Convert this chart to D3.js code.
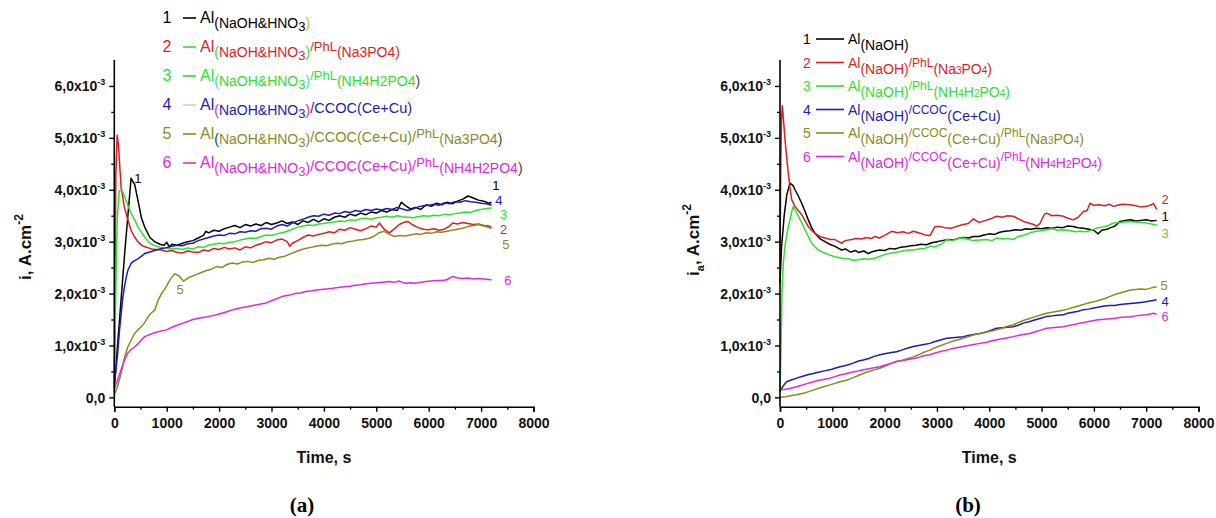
<!DOCTYPE html>
<html><head><meta charset="utf-8">
<script src="https://cdn.jsdelivr.net/npm/d3@7/dist/d3.min.js"></script>
<style>body{margin:0;background:#fff}svg{display:block}</style>
</head><body>
<svg id="c" width="1216" height="518"></svg>
<script>
// ---------- DATA (current in units of 1e-3 A/cm2, time in s) ----------
const xTicks = [0,1000,2000,3000,4000,5000,6000,7000,8000];
const yTicks = [0,1,2,3,4,5,6];
const yTickLabels = ["0,0","1,0x10","2,0x10","3,0x10","4,0x10","5,0x10","6,0x10"];
const seriesColors = ["#000000","#dd1e1e","#2ee02e","#1c1cb8","#8b8b1c","#e028e0"];

const a1 = [[0,0.2],[100,1.5],[200,2.8],[320,4.22],[390,4.1],[450,3.8],[520,3.45],[580,3.28],[680,3.08],[770,3.0],[870,2.95],[950,2.93],[1000,2.99],[1050,2.9],[1100,2.95],[1200,2.93],[1300,2.97],[1400,3.0],[1500,3.02],[1600,3.07],[1700,3.12],[1750,3.2],[1800,3.17],[1900,3.22],[2000,3.2],[2100,3.25],[2200,3.28],[2300,3.31],[2400,3.27],[2500,3.33],[2600,3.3],[2700,3.34],[2800,3.31],[2900,3.37],[3000,3.33],[3100,3.36],[3200,3.4],[3300,3.35],[3400,3.38],[3500,3.33],[3600,3.4],[3700,3.37],[3800,3.43],[3900,3.38],[4000,3.44],[4100,3.41],[4200,3.47],[4300,3.5],[4400,3.47],[4500,3.53],[4600,3.5],[4700,3.55],[4800,3.52],[4900,3.57],[5000,3.55],[5100,3.6],[5200,3.57],[5300,3.62],[5400,3.6],[5480,3.76],[5550,3.7],[5650,3.63],[5750,3.66],[5850,3.62],[5950,3.71],[6050,3.68],[6150,3.74],[6250,3.71],[6350,3.76],[6450,3.73],[6550,3.78],[6650,3.82],[6750,3.88],[6850,3.84],[6950,3.8],[7050,3.78],[7150,3.74],[7200,3.76]];
const a2 = [[0,0.1],[15,2.5],[30,4.3],[55,5.05],[80,4.85],[130,4.05],[190,3.67],[250,3.45],[320,3.22],[380,3.1],[450,3.0],[520,2.93],[580,2.9],[650,2.88],[710,2.86],[800,2.85],[900,2.84],[1000,2.81],[1100,2.83],[1200,2.79],[1300,2.78],[1400,2.82],[1500,2.8],[1600,2.79],[1700,2.84],[1800,2.82],[1900,2.87],[2000,2.85],[2100,2.89],[2200,2.86],[2300,2.88],[2400,2.84],[2500,2.9],[2600,2.88],[2700,2.93],[2800,2.96],[2900,3.0],[3000,2.98],[3100,3.03],[3200,3.05],[3300,3.0],[3350,2.91],[3400,2.97],[3500,3.02],[3600,3.08],[3700,3.13],[3800,3.11],[3900,3.14],[4000,3.16],[4100,3.19],[4200,3.17],[4300,3.24],[4400,3.22],[4500,3.27],[4600,3.24],[4700,3.21],[4800,3.25],[4900,3.3],[5000,3.28],[5060,3.36],[5150,3.24],[5250,3.17],[5350,3.25],[5440,3.33],[5520,3.37],[5600,3.39],[5700,3.32],[5800,3.27],[5900,3.24],[6000,3.23],[6100,3.25],[6200,3.22],[6300,3.24],[6400,3.3],[6460,3.36],[6550,3.34],[6650,3.37],[6750,3.35],[6850,3.33],[6950,3.34],[7050,3.31],[7150,3.3],[7200,3.28]];
const a3 = [[0,0.15],[20,1.5],[40,2.8],[60,3.5],[96,3.98],[130,4.0],[161,3.96],[225,3.79],[322,3.54],[400,3.4],[450,3.28],[520,3.18],[580,3.09],[650,3.0],[710,2.95],[800,2.91],[900,2.89],[1000,2.87],[1100,2.86],[1200,2.87],[1300,2.85],[1400,2.88],[1500,2.86],[1600,2.9],[1700,2.89],[1800,2.93],[1900,2.95],[2000,2.97],[2100,2.96],[2200,2.99],[2300,3.0],[2400,3.03],[2500,3.05],[2600,3.07],[2700,3.06],[2800,3.1],[2900,3.13],[3000,3.12],[3100,3.15],[3200,3.17],[3300,3.2],[3400,3.24],[3500,3.28],[3600,3.3],[3700,3.32],[3800,3.31],[3900,3.34],[4000,3.35],[4100,3.37],[4200,3.38],[4300,3.4],[4400,3.39],[4500,3.42],[4600,3.41],[4700,3.44],[4800,3.45],[4900,3.43],[5000,3.46],[5100,3.47],[5200,3.49],[5300,3.47],[5400,3.5],[5500,3.48],[5600,3.47],[5700,3.46],[5800,3.48],[5900,3.5],[6000,3.49],[6100,3.51],[6200,3.5],[6300,3.53],[6400,3.52],[6500,3.54],[6600,3.55],[6700,3.57],[6800,3.56],[6900,3.6],[7000,3.62],[7100,3.64],[7200,3.65]];
const a4 = [[0,0.25],[30,0.5],[64,0.85],[100,1.3],[130,1.6],[160,1.9],[193,2.13],[230,2.32],[260,2.45],[320,2.58],[380,2.63],[450,2.67],[520,2.72],[580,2.77],[680,2.8],[770,2.83],[870,2.86],[970,2.88],[1100,2.91],[1200,2.93],[1300,2.92],[1400,2.96],[1500,2.97],[1600,3.02],[1700,3.05],[1800,3.08],[1900,3.11],[2000,3.13],[2100,3.12],[2200,3.16],[2300,3.15],[2400,3.19],[2500,3.18],[2600,3.21],[2700,3.2],[2800,3.25],[2900,3.26],[3000,3.24],[3100,3.3],[3200,3.33],[3300,3.3],[3400,3.36],[3500,3.4],[3600,3.43],[3700,3.47],[3800,3.5],[3900,3.49],[4000,3.53],[4100,3.51],[4200,3.55],[4300,3.54],[4400,3.58],[4500,3.56],[4600,3.6],[4700,3.58],[4800,3.62],[4900,3.6],[5000,3.63],[5100,3.61],[5200,3.64],[5300,3.62],[5400,3.66],[5500,3.63],[5600,3.6],[5700,3.63],[5800,3.67],[5900,3.69],[6000,3.7],[6100,3.72],[6200,3.7],[6300,3.75],[6400,3.73],[6500,3.77],[6600,3.76],[6700,3.79],[6800,3.77],[6900,3.76],[7000,3.74],[7100,3.73],[7200,3.7]];
const a5 = [[0,0.05],[60,0.2],[129,0.46],[190,0.75],[257,0.97],[320,1.1],[386,1.23],[450,1.3],[514,1.36],[580,1.44],[643,1.55],[700,1.62],[772,1.68],[836,1.87],[900,2.0],[960,2.08],[1061,2.26],[1110,2.33],[1157,2.38],[1200,2.36],[1254,2.32],[1320,2.24],[1380,2.28],[1450,2.32],[1550,2.36],[1650,2.4],[1750,2.44],[1850,2.47],[1950,2.52],[2050,2.5],[2150,2.56],[2250,2.59],[2350,2.57],[2450,2.61],[2550,2.62],[2650,2.6],[2750,2.64],[2850,2.65],[2950,2.68],[3050,2.66],[3150,2.7],[3250,2.72],[3350,2.76],[3450,2.8],[3550,2.84],[3650,2.87],[3750,2.89],[3850,2.91],[3950,2.93],[4050,2.92],[4150,2.95],[4250,2.97],[4350,2.96],[4450,3.0],[4550,3.01],[4650,3.03],[4750,3.04],[4850,3.06],[4950,3.1],[5050,3.17],[5150,3.2],[5250,3.14],[5350,3.1],[5450,3.12],[5550,3.11],[5650,3.13],[5750,3.15],[5850,3.14],[5950,3.17],[6050,3.16],[6150,3.19],[6250,3.18],[6350,3.2],[6450,3.22],[6550,3.24],[6650,3.26],[6750,3.29],[6850,3.31],[6950,3.33],[7050,3.3],[7150,3.27],[7200,3.26]];
const a6 = [[0,0.15],[60,0.33],[129,0.53],[190,0.7],[257,0.85],[320,0.92],[386,0.97],[450,1.03],[514,1.1],[579,1.17],[650,1.2],[750,1.24],[850,1.27],[1000,1.3],[1100,1.35],[1200,1.39],[1314,1.43],[1400,1.46],[1500,1.5],[1632,1.53],[1750,1.55],[1850,1.57],[1950,1.59],[2050,1.62],[2150,1.65],[2267,1.69],[2400,1.72],[2500,1.74],[2600,1.76],[2700,1.78],[2800,1.8],[2900,1.82],[3000,1.86],[3100,1.9],[3219,1.95],[3350,1.97],[3450,2.0],[3550,2.01],[3650,2.04],[3750,2.05],[3850,2.07],[3950,2.08],[4050,2.09],[4171,2.1],[4300,2.12],[4400,2.13],[4500,2.14],[4600,2.16],[4700,2.17],[4806,2.19],[4900,2.2],[5000,2.21],[5124,2.22],[5250,2.23],[5350,2.22],[5441,2.24],[5550,2.2],[5650,2.21],[5750,2.2],[5850,2.22],[5950,2.23],[6050,2.24],[6150,2.25],[6250,2.25],[6330,2.26],[6400,2.3],[6460,2.33],[6550,2.3],[6650,2.29],[6750,2.3],[6850,2.28],[6950,2.29],[7050,2.28],[7150,2.27],[7200,2.26]];

const b1 = [[0,2.2],[30,2.9],[80,3.5],[130,3.9],[190,4.13],[250,4.08],[287,4.0],[350,3.88],[414,3.74],[480,3.58],[541,3.42],[600,3.28],[669,3.16],[760,3.06],[860,3.0],[950,2.95],[1051,2.91],[1120,2.87],[1178,2.84],[1250,2.86],[1350,2.8],[1450,2.83],[1500,2.79],[1600,2.82],[1688,2.77],[1750,2.8],[1815,2.82],[1900,2.84],[2000,2.83],[2100,2.87],[2200,2.86],[2300,2.89],[2400,2.9],[2500,2.92],[2600,2.93],[2700,2.95],[2800,2.94],[2900,2.98],[3000,3.0],[3100,3.02],[3200,3.04],[3300,3.03],[3400,3.06],[3500,3.08],[3600,3.07],[3700,3.1],[3800,3.1],[3900,3.13],[4000,3.15],[4100,3.14],[4200,3.18],[4300,3.2],[4400,3.21],[4500,3.23],[4600,3.22],[4700,3.25],[4800,3.24],[4900,3.26],[5000,3.25],[5100,3.27],[5200,3.26],[5300,3.28],[5400,3.27],[5500,3.3],[5600,3.29],[5700,3.27],[5800,3.26],[5900,3.24],[6000,3.22],[6080,3.15],[6150,3.22],[6250,3.24],[6300,3.26],[6400,3.3],[6500,3.39],[6600,3.41],[6700,3.42],[6800,3.4],[6900,3.41],[7000,3.42],[7100,3.4],[7200,3.41]];
const b2 = [[0,2.5],[15,4.5],[30,5.4],[45,5.62],[70,5.3],[96,4.96],[130,4.6],[159,4.32],[190,4.05],[223,3.81],[287,3.68],[350,3.6],[414,3.52],[480,3.4],[541,3.29],[600,3.22],[669,3.16],[760,3.1],[860,3.07],[960,3.04],[1051,3.04],[1120,3.0],[1178,2.97],[1250,3.02],[1370,3.04],[1450,3.06],[1560,3.05],[1650,3.08],[1750,3.06],[1815,3.1],[1900,3.07],[2000,3.12],[2134,3.2],[2250,3.17],[2350,3.19],[2452,3.16],[2550,3.2],[2650,3.17],[2771,3.13],[2870,3.12],[2962,3.29],[3059,3.29],[3150,3.27],[3280,3.26],[3400,3.3],[3505,3.33],[3600,3.35],[3700,3.44],[3800,3.37],[3900,3.4],[4000,3.43],[4142,3.49],[4250,3.47],[4350,3.5],[4461,3.49],[4560,3.44],[4652,3.39],[4750,3.36],[4850,3.33],[4907,3.3],[4970,3.35],[5050,3.52],[5098,3.55],[5200,3.5],[5300,3.51],[5417,3.49],[5500,3.45],[5609,3.42],[5700,3.47],[5800,3.58],[5870,3.6],[5927,3.74],[6000,3.7],[6100,3.71],[6200,3.69],[6300,3.72],[6373,3.68],[6450,3.7],[6550,3.72],[6692,3.71],[6800,3.69],[6900,3.67],[7011,3.68],[7100,3.71],[7138,3.74],[7202,3.62]];
const b3 = [[0,0.1],[20,1.0],[40,2.1],[64,2.6],[100,2.95],[127,3.1],[160,3.3],[191,3.42],[230,3.6],[255,3.68],[300,3.6],[350,3.49],[410,3.38],[478,3.23],[540,3.1],[605,2.97],[670,2.9],[733,2.84],[830,2.79],[924,2.75],[1050,2.71],[1178,2.68],[1300,2.67],[1400,2.64],[1497,2.65],[1600,2.67],[1700,2.66],[1815,2.68],[1912,2.72],[2000,2.75],[2134,2.78],[2250,2.8],[2350,2.82],[2452,2.84],[2549,2.84],[2650,2.86],[2771,2.87],[2868,2.91],[2950,2.9],[3089,2.95],[3186,3.04],[3300,3.02],[3400,3.06],[3505,3.07],[3600,3.04],[3700,3.02],[3824,3.03],[3950,3.04],[4050,3.02],[4142,3.07],[4250,3.05],[4350,3.06],[4461,3.04],[4550,3.1],[4650,3.12],[4779,3.17],[4900,3.2],[5000,3.21],[5098,3.23],[5200,3.25],[5300,3.22],[5417,3.23],[5550,3.21],[5650,3.19],[5737,3.2],[5850,3.19],[5950,3.22],[6054,3.26],[6150,3.28],[6250,3.3],[6373,3.36],[6500,3.37],[6600,3.38],[6692,3.39],[6800,3.38],[6900,3.37],[7011,3.36],[7100,3.34],[7202,3.32]];
const b4 = [[0,0.11],[60,0.22],[127,0.3],[200,0.33],[318,0.37],[450,0.41],[550,0.44],[637,0.46],[750,0.49],[850,0.51],[955,0.53],[1050,0.56],[1150,0.59],[1274,0.62],[1400,0.66],[1500,0.7],[1592,0.72],[1700,0.75],[1800,0.79],[1911,0.82],[2000,0.84],[2100,0.86],[2229,0.88],[2350,0.92],[2450,0.95],[2548,0.98],[2650,1.0],[2750,1.02],[2866,1.04],[2950,1.07],[3050,1.1],[3185,1.14],[3300,1.15],[3400,1.16],[3503,1.17],[3600,1.19],[3700,1.21],[3822,1.23],[3950,1.26],[4050,1.3],[4140,1.33],[4250,1.34],[4350,1.35],[4459,1.36],[4550,1.39],[4650,1.43],[4777,1.46],[4900,1.5],[5000,1.53],[5096,1.56],[5200,1.57],[5300,1.58],[5414,1.59],[5500,1.62],[5600,1.64],[5700,1.66],[5800,1.69],[5900,1.7],[6000,1.72],[6100,1.74],[6200,1.76],[6300,1.77],[6400,1.77],[6500,1.79],[6600,1.8],[6700,1.81],[6800,1.82],[6900,1.83],[7000,1.84],[7100,1.86],[7200,1.88]];
const b5 = [[0,0.0],[100,0.01],[200,0.03],[318,0.05],[450,0.08],[550,0.11],[637,0.14],[750,0.18],[850,0.21],[955,0.24],[1050,0.27],[1150,0.3],[1274,0.33],[1400,0.38],[1500,0.42],[1592,0.46],[1700,0.5],[1800,0.53],[1911,0.56],[2000,0.6],[2100,0.64],[2229,0.69],[2350,0.72],[2450,0.75],[2548,0.78],[2650,0.82],[2750,0.87],[2866,0.91],[2950,0.95],[3050,0.99],[3185,1.04],[3300,1.08],[3400,1.11],[3503,1.14],[3600,1.17],[3700,1.2],[3822,1.23],[3950,1.26],[4050,1.28],[4140,1.3],[4250,1.33],[4350,1.37],[4459,1.4],[4550,1.44],[4650,1.48],[4777,1.52],[4900,1.56],[5000,1.59],[5096,1.62],[5200,1.64],[5300,1.66],[5414,1.68],[5500,1.7],[5600,1.73],[5700,1.76],[5800,1.79],[5900,1.82],[6000,1.84],[6100,1.87],[6200,1.9],[6300,1.94],[6400,1.98],[6500,2.01],[6600,2.04],[6700,2.07],[6800,2.08],[6900,2.09],[7000,2.08],[7100,2.11],[7200,2.13]];
const b6 = [[0,0.15],[100,0.15],[191,0.17],[300,0.2],[400,0.23],[500,0.26],[637,0.3],[750,0.33],[850,0.35],[955,0.37],[1050,0.4],[1150,0.43],[1274,0.46],[1400,0.49],[1500,0.51],[1592,0.53],[1700,0.55],[1800,0.57],[1911,0.59],[2000,0.62],[2100,0.65],[2229,0.69],[2350,0.71],[2450,0.73],[2548,0.75],[2650,0.77],[2750,0.8],[2866,0.82],[2950,0.85],[3050,0.88],[3185,0.91],[3300,0.94],[3400,0.96],[3503,0.98],[3600,1.0],[3700,1.02],[3822,1.04],[3950,1.06],[4050,1.09],[4140,1.11],[4250,1.13],[4350,1.15],[4459,1.17],[4550,1.19],[4650,1.21],[4777,1.23],[4900,1.27],[5000,1.3],[5096,1.33],[5200,1.34],[5300,1.35],[5414,1.36],[5500,1.38],[5600,1.4],[5732,1.43],[5850,1.45],[5950,1.47],[6051,1.49],[6150,1.5],[6250,1.51],[6373,1.52],[6500,1.54],[6600,1.55],[6692,1.55],[6800,1.57],[6900,1.58],[7011,1.59],[7100,1.61],[7138,1.62],[7200,1.6]];

// curve number labels: [text, colorIndex, t, value]
const labelsA = [["1",0,7284,4.09],["4",3,7340,3.79],["3",2,7430,3.53],["2",1,7430,3.23],["5",4,7475,2.94],["6",5,7513,2.26],["1",0,452,4.22],["5",4,1254,2.07]];
const labelsB = [["2",1,7361,3.82],["1",0,7361,3.48],["3",2,7361,3.15],["5",4,7342,2.16],["4",3,7361,1.85],["6",5,7361,1.55]];

// legend entries: segments [text, kind, color?]  kinds: n normal, s sub, ss subsub, p raised
const legendA = [
 [["Al","n"],["(NaOH&HNO","s"],["3","ss"],[")","s","#f0a040"]],
 [["Al","n"],["(","s","#2ee02e"],["NaOH&HNO","s"],["3","ss"],[")","s","#2ee02e"],["/PhL","p"],["(Na3PO4","s"],[")","s"]],
 [["Al","n"],["(","s","#40d0e0"],["NaOH&HNO","s"],["3","ss"],[")","s","#40d0e0"],["/PhL","p"],["(NH4H2PO4","s"],[")","s","#444"]],
 [["Al","n"],["(","s","#e03060"],["NaOH&HNO","s"],["3","ss"],[")","s","#e03060"],["/CCOC","s2"],["(Ce+Cu)","s2"]],
 [["Al","n"],["(","s","#2030c0"],["NaOH&HNO","s"],["3","ss"],[")","s"],["/CCOC","s2"],["(Ce+Cu)/","s2"],["PhL","p"],["(Na3PO4","s"],[")","s","#444"]],
 [["Al","n"],["(","s"],["NaOH&HNO","s"],["3","ss"],[")","s"],["/CCOC","s2"],["(Ce+Cu)/","s2"],["PhL","p"],["(NH4H2PO4","s"],[")","s","#444"]]
];
const legendALineColors = ["#000000","#2ee02e","#2ee02e","#c8c8f0","#8b8b1c","#e028e0"];
const legendB = [
 [["Al","n"],["(NaOH)","s"]],
 [["Al","n"],["(NaOH)","s"],["/PhL","p"],["(Na","s"],["3","s3"],["PO","s"],["4","s3"],[")","s"]],
 [["Al","n"],["(NaOH)","s"],["/PhL","p"],["(NH","s"],["4","s3"],["H","s"],["2","s3"],["PO","s"],["4","s3"],[")","s"]],
 [["Al","n"],["(NaOH)","s"],["/CCOC","p"],["(Ce+Cu)","s"]],
 [["Al","n"],["(NaOH)","s"],["/CCOC","p"],["(Ce+Cu)","s"],["/PhL","p"],["(Na","s"],["3","s3"],["PO","s"],["4","s3"],[")","s"]],
 [["Al","n"],["(NaOH)","s"],["/CCOC","p"],["(Ce+Cu)","s"],["/PhL","p"],["(NH","s"],["4","s3"],["H","s"],["2","s3"],["PO","s"],["4","s3"],[")","s"]]
];

// ---------- DRAW ----------
const svg = d3.select("#c");
const FONT = "'Liberation Sans', Arial, Helvetica, sans-serif";
const yA = d3.scaleLinear().domain([-0.18, 6.5]).range([406.7, 60]);

function panel(x0, x1, seriesList, labels, ylabelSub, ylabelX, ylabelY) {
  const x = d3.scaleLinear().domain([0, 8000]).range([x0, x1]);
  const g = svg.append("g");
  const line = d3.line().x(d => x(d[0])).y(d => yA(d[1]));
  seriesList.forEach((s, i) => {
    g.append("path").datum(s).attr("d", line).attr("fill", "none")
      .attr("stroke", seriesColors[i]).attr("stroke-width", 1.5).attr("stroke-linejoin", "round");
  });
  // x axis
  const xa = g.append("g").attr("transform", `translate(0,406.7)`)
    .call(d3.axisBottom(x).tickValues(xTicks).tickSize(5).tickPadding(6).tickFormat(d3.format("d")));
  xa.select(".domain").attr("stroke-width", 1.6);
  xa.selectAll(".tick line").attr("stroke-width", 1.4);
  xa.selectAll("text").attr("font-family", FONT).attr("font-weight", "bold").attr("font-size", 14).attr("fill", "#111");
  g.append("g").attr("transform", `translate(0,406.7)`)
    .call(d3.axisBottom(x).tickValues(d3.range(500, 8000, 1000)).tickSize(3).tickFormat(""))
    .call(s => s.select(".domain").remove()).selectAll("line").attr("stroke-width", 1.3);
  // y axis
  const ya = g.append("g").attr("transform", `translate(${x0},0)`)
    .call(d3.axisLeft(yA).tickValues(yTicks).tickSize(5).tickPadding(8).tickFormat(""));
  ya.select(".domain").attr("stroke-width", 1.6).attr("d", `M0,406.7V60`);
  ya.selectAll(".tick line").attr("stroke-width", 1.4);
  ya.selectAll(".tick").each(function(d, i) {
    const t = d3.select(this).append("text").attr("x", -9).attr("dy", "0.35em")
      .attr("text-anchor", "end").attr("font-family", FONT).attr("font-weight", "bold")
      .attr("font-size", 14).attr("fill", "#111");
    t.append("tspan").text(yTickLabels[i]);
    if (i > 0) t.append("tspan").attr("font-size", 9).attr("dy", -6).text("-3");
  });
  g.append("g").attr("transform", `translate(${x0},0)`)
    .call(d3.axisLeft(yA).tickValues(d3.range(0.5, 6.5, 1)).tickSize(3).tickFormat(""))
    .call(s => s.select(".domain").remove()).selectAll("line").attr("stroke-width", 1.3);
  // axis titles
  g.append("text").attr("x", (x0 + x1) / 2).attr("y", 463).attr("text-anchor", "middle")
    .attr("font-family", FONT).attr("font-weight", "bold").attr("font-size", 16).attr("fill", "#111")
    .text("Time, s");
  const yl = g.append("text").attr("transform", `translate(${ylabelX},${ylabelY}) rotate(-90)`)
    .attr("text-anchor", "middle").attr("font-family", FONT).attr("font-weight", "bold")
    .attr("font-size", 17).attr("fill", "#111");
  yl.append("tspan").text("i");
  if (ylabelSub) { yl.append("tspan").attr("font-size", 11).attr("dy", 5).text(ylabelSub); yl.append("tspan").attr("dy", -5).text(", A.cm"); }
  else yl.append("tspan").text(", A.cm");
  yl.append("tspan").attr("font-size", 12).attr("dy", -8).text("-2");
  // curve labels
  labels.forEach(l => {
    g.append("text").attr("x", x(l[2])).attr("y", yA(l[3])).attr("dy", "0.35em")
      .attr("text-anchor", "middle").attr("font-family", FONT).attr("font-size", 13)
      .attr("fill", seriesColors[l[1]]).text(l[0]);
  });
  return x;
}

panel(114.3, 533.5, [a1, a2, a3, a4, a5, a6], labelsA, null, 31, 247);
panel(780, 1198.5, [b1, b2, b3, b4, b5, b6], labelsB, "a", 699, 240);

function legend(entries, lineColors, numX, lx0, lx1, textX, y0, dy, sizes, offs) {
  entries.forEach((segs, i) => {
    const y = y0 + i * dy;
    const col = seriesColors[i];
    svg.append("text").attr("x", numX).attr("y", y).attr("text-anchor", "middle")
      .attr("font-family", FONT).attr("font-size", sizes.num).attr("fill", col).text(String(i + 1));
    svg.append("line").attr("x1", lx0).attr("x2", lx1).attr("y1", y - 5).attr("y2", y - 5)
      .attr("stroke", lineColors[i]).attr("stroke-width", 1.6);
    const t = svg.append("text").attr("x", textX).attr("y", y).attr("font-family", FONT).attr("fill", col);
    let cur = 0;
    segs.forEach(s => {
      const target = offs[s[1]];
      t.append("tspan").attr("dy", target - cur).attr("font-size", sizes[s[1]])
        .attr("fill", s[2] || col).text(s[0]);
      cur = target;
    });
  });
}

legend(legendA, legendALineColors, 167, 183, 196, 200, 23, 29,
  {num: 16, n: 16, s: 14, ss: 13, p: 13, s2: 14.5}, {n: 0, s: 5, ss: 8, p: -1, s2: 3});
legend(legendB, seriesColors, 807, 816, 844, 848, 44, 23.5,
  {num: 14, n: 14, s: 14, p: 12, s3: 10}, {n: 0, s: 6, p: -1, s3: 6});

// panel captions
svg.append("text").attr("x", 302).attr("y", 512).attr("text-anchor", "middle")
  .attr("font-family", "'Liberation Serif', 'Times New Roman', serif").attr("font-weight", "bold")
  .attr("font-size", 21).text("(a)");
svg.append("text").attr("x", 968).attr("y", 512).attr("text-anchor", "middle")
  .attr("font-family", "'Liberation Serif', 'Times New Roman', serif").attr("font-weight", "bold")
  .attr("font-size", 21).text("(b)");
</script>
</body></html>
